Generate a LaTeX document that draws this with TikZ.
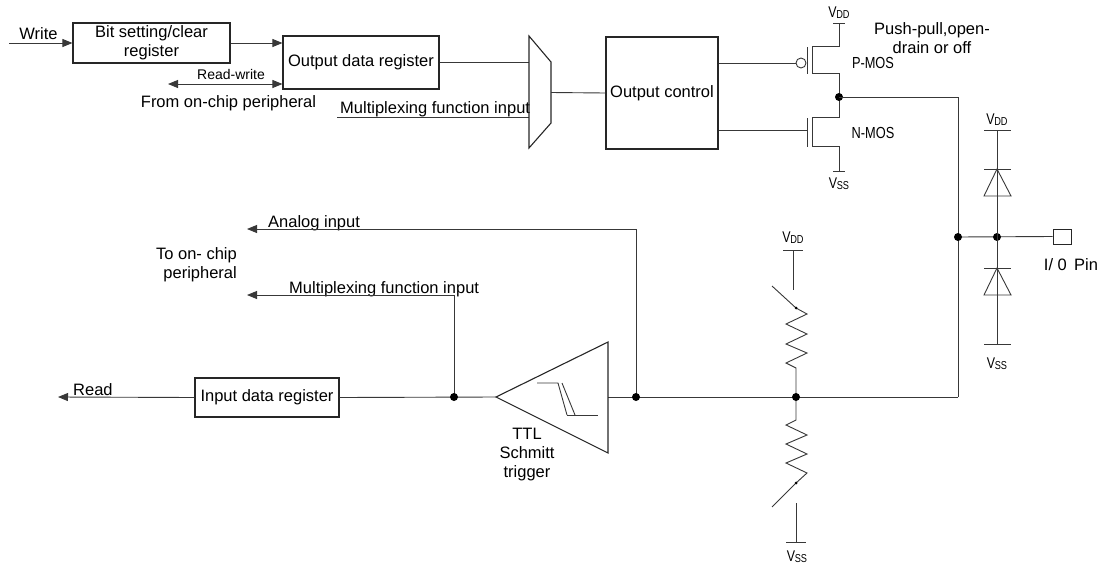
\documentclass[tikz,border=0pt]{standalone}
\usepackage{fontspec}
\usepackage{graphicx}
\setmainfont{Liberation Sans}
\usetikzlibrary{arrows.meta,calc}
\newcommand{\volt}[1]{\scalebox{0.8}[1]{\fontsize{15.5}{15.5}\selectfont V\kern-0.5pt\raisebox{-0.8pt}{\fontsize{11.5}{11.5}\selectfont #1}}}
\newcommand{\mosl}[1]{\scalebox{0.8}[1]{\fontsize{16}{16}\selectfont #1}}
\tikzset{
  every node/.style={font=\fontsize{16.5}{19}\selectfont, inner sep=0pt},
  wire/.style={line width=0.9pt, draw=black!78},
  boxst/.style={draw=black!85, line width=1.1pt, align=center},
  arr/.style={-{Triangle[length=10pt,width=8pt]}},
  darr/.style={{Triangle[length=10pt,width=8pt]}-{Triangle[length=10pt,width=8pt]}},
  dot/.style={circle, fill=black, minimum size=8pt, inner sep=0pt},
  sdot/.style={circle, fill=black, minimum size=3pt, inner sep=0pt},
  smalltext/.style={font=\fontsize{14}{16}\selectfont}
}
\begin{document}
\begin{tikzpicture}[x=1pt,y=-1pt]
\useasboundingbox (0,0) rectangle (1103,568);

% ---------- boxes ----------
\node[boxst, minimum width=157pt, minimum height=40pt] (bitreg) at (151.5,43) {Bit setting/clear\\register};
\node[boxst, minimum width=156pt, minimum height=53pt] (odr) at (361,62.5) {Output data register};
\node[boxst, minimum width=112pt, minimum height=112pt] (oc) at (662,93) {Output control};
\node[boxst, minimum width=144pt, minimum height=39pt] (idr) at (267,397.5) {Input data register};
\node[draw=black!85, line width=1pt, minimum width=18pt, minimum height=15pt] (pin) at (1062,236.5) {};

% ---------- labels ----------
\node[anchor=base] (lwrite) at (38.5,39) {Write};
\node[anchor=base, smalltext] (lrw) at (231,79) {Read-write};
\node[anchor=base] (lfrom) at (228.5,107) {From on-chip peripheral};
\node[anchor=base west] (lmux1) at (340,113) {Multiplexing function input};
\node[align=center, anchor=base] (lpush) at (932,53) {Push-pull,open-\\drain or off};
\node (lpmos) at (873,63) {\mosl{P-MOS}};
\node (lnmos) at (873,133) {\mosl{N-MOS}};
\node (vdd1) at (839,13) {\volt{DD}};
\node (vss1) at (839,184) {\volt{SS}};
\node (vdd2) at (997,120) {\volt{DD}};
\node (vss2) at (997,364) {\volt{SS}};
\node (vdd3) at (793,238) {\volt{DD}};
\node (vss3) at (797,557) {\volt{SS}};
\node[anchor=base] (lpin) at (1071,270) {I/ 0\, Pin};
\node[anchor=base west] (lanalog) at (268,227) {Analog input};
\node[align=right, anchor=base east] (lto) at (237,278) {To on- chip\\peripheral};
\node[anchor=base west] (lmux2) at (289,293) {Multiplexing function input};
\node[anchor=base west] (lread) at (73,395) {Read};
\node[align=center, anchor=base] (lttl) at (527,477) {TTL\\Schmitt\\trigger};

% ---------- coordinates ----------
\coordinate (wstart) at (9,43);
\coordinate (rwl) at (168,84);
\coordinate (m1) at (529,36);
\coordinate (m2) at (551,62);
\coordinate (m3) at (551,123);
\coordinate (m4) at (529,148);
\coordinate (muxin) at (337,117);
\coordinate (out) at (839,97);
\coordinate (rail) at (958,97);
\coordinate (railbot) at (958,397);
\coordinate (j1) at (958,237);
\coordinate (j2) at (997,237);
\coordinate (j3) at (454,397);
\coordinate (j4) at (636,397);
\coordinate (j5) at (796,397);
\coordinate (st1) at (496,397);
\coordinate (st2) at (608,342);
\coordinate (st3) at (608,453);
\coordinate (readend) at (58,397);
\coordinate (antip) at (247,229);
\coordinate (muxtip) at (247,295);

% ---------- top path ----------
\draw[wire, arr] (wstart) -- (bitreg.west);
\draw[wire, arr] (bitreg.east) -- (bitreg.east -| odr.west);
\draw[wire, darr] (rwl) -- (rwl -| odr.west);
\draw[wire] (odr.east) -- (odr.east -| m1);
\draw[wire] (muxin) -- (muxin -| m1);
\draw[black!85, line width=1.1pt] (m1) -- (m2) -- (m3) -- (m4) -- cycle;
\draw[wire] ($(m2)!0.5!(m3)$) -- (oc.west);

% ---------- MOS pair ----------
\draw[wire] (oc.east |- 0,63) -- (796,63);
\draw[wire] (801,63) circle (5pt);
\draw[wire] (807,47) -- (807,74);
\draw[wire] (812,46) -- (812,74);
\draw[wire] (812,46) -- (839,46) -- (839,23);
\draw[wire] (833,23) -- (845,23);
\draw[wire] (812,73) -- (839,73) -- (839,117) -- (812,117);
\draw[wire] (812,117) -- (812,147);
\draw[wire] (807,118) -- (807,147);
\draw[wire] (oc.east |- 0,130) -- (807,130);
\draw[wire] (812,146) -- (839,146) -- (839,171);
\draw[wire] (833,171) -- (845,171);
\node[dot] (dout) at (out) {};

% ---------- rail ----------
\draw[wire] (out) -- (rail) -- (railbot);
\draw[wire] (j1) -- (pin.west);
\node[dot] (dj1) at (j1) {};
\node[dot] (dj2) at (j2) {};

% diodes
\draw[wire] (997,130) -- (997,344);
\draw[wire] (984,130) -- (1011,130);
\draw[wire] (984,169) -- (1011,169);
\draw[wire] (997,169) -- (984,196) -- (1011,196) -- cycle;
\draw[wire] (984,268) -- (1011,268);
\draw[wire] (997,268) -- (984,295) -- (1011,295) -- cycle;
\draw[wire] (984,344) -- (1011,344);

% ---------- bottom path ----------
\draw[wire] (railbot) -- (st2 |- railbot);
\draw[wire] (idr.east) -- (st1);
\draw[wire, arr] (idr.west) -- (readend);
\draw[black!85, line width=1.1pt] (st1) -- (st2) -- (st3) -- cycle;
\draw[wire] (537,383) -- (558,383) -- (567,415);
\draw[wire] (562,383) -- (575,415);
\draw[wire] (567,415) -- (598,415);
\draw[wire, arr] (j4) -- (j4 |- antip) -- (antip);
\draw[wire, arr] (j3) -- (j3 |- muxtip) -- (muxtip);
\node[dot] (dj3) at (j3) {};
\node[dot] (dj4) at (j4) {};

% pull-up / pull-down
\draw[wire] (783,250) -- (803,250);
\draw[wire] (793,250) -- (793,290);
\draw[wire] (772,286) -- (796,308);
\draw[wire] (796,308) -- (807,314) -- (786,324) -- (807,334) -- (786,344) -- (807,353) -- (786,363) -- (796,368) -- (796,397);
\draw[wire] (796,397) -- (796,420) -- (786,425) -- (807,435) -- (786,444) -- (807,454) -- (786,463) -- (807,473) -- (796,483);
\draw[wire] (796,483) -- (772,507);
\draw[wire] (796,503) -- (796,542);
\draw[wire] (786,542) -- (806,542);
\node[sdot] (sw1) at (796,308) {};
\node[sdot] (sw2) at (796,483) {};
\node[dot] (dj5) at (j5) {};
\end{tikzpicture}
\end{document}
